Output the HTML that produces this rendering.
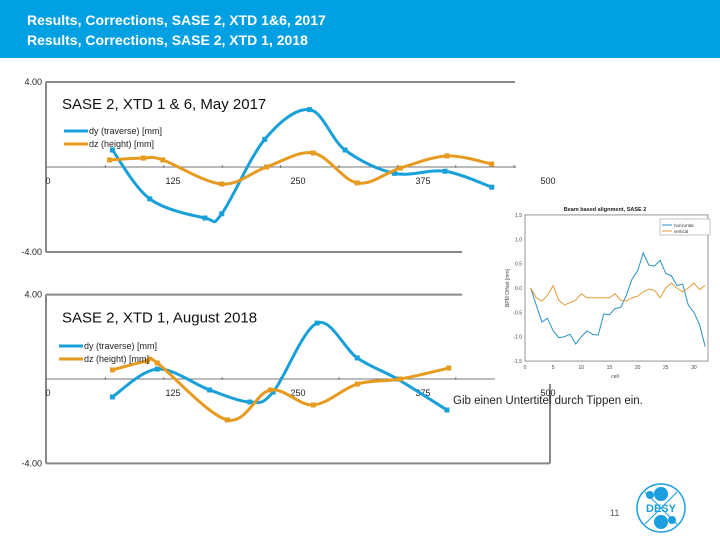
<!DOCTYPE html>
<html><head><meta charset="utf-8"><style>
body{margin:0;width:720px;height:540px;overflow:hidden;background:#fff;font-family:"Liberation Sans",sans-serif}
svg{position:absolute;left:0;top:0}
</style></head><body>
<svg width="720" height="540" viewBox="0 0 720 540">
<rect x="0" y="0" width="720" height="58" fill="#00a0e3"/>
<text x="27" y="25" font-size="14" font-weight="bold" fill="#fff">Results, Corrections, SASE 2, XTD 1&amp;6, 2017</text>
<text x="27" y="45" font-size="14" font-weight="bold" fill="#fff">Results, Corrections, SASE 2, XTD 1, 2018</text>
<g id="c1"></g>
<g id="c2"></g>
<g id="inset"></g>
<text x="453" y="404" font-size="11.5" fill="#222">Gib einen Untertitel durch Tippen ein.</text>
<text x="610" y="516" font-size="9" fill="#555">11</text>
<g>
<circle cx="661" cy="508" r="24" fill="none" stroke="#1a9ee0" stroke-width="1.5"/>
<line x1="645" y1="524" x2="677" y2="492" stroke="#1a9ee0" stroke-width="1"/>
<line x1="645" y1="492" x2="677" y2="524" stroke="#1a9ee0" stroke-width="1"/>
<circle cx="661" cy="494" r="7" fill="#1a9ee0"/><circle cx="650" cy="495" r="4" fill="#1a9ee0"/>
<circle cx="661" cy="522" r="7" fill="#1a9ee0"/><circle cx="672" cy="520" r="4" fill="#1a9ee0"/>
<text x="661" y="512" font-size="11" font-weight="bold" fill="#1a9ee0" text-anchor="middle">DESY</text>
</g>
</svg>
<script>
const NS="http://www.w3.org/2000/svg";
const xTicks=[0,125,250,375,500];
const c1X=[70,110,169,187,233,281,319,372,426,476];
const c1Dy=[0.8,-1.5,-2.4,-2.2,1.3,2.7,0.8,-0.3,-0.2,-0.95];
const c1ZX=[67,103,124,187,235,285,332,378,428,476];
const c1Dz=[0.33,0.42,0.33,-0.8,0,0.66,-0.75,-0.05,0.52,0.14];
const c2X=[70,118,174,217,242,289,332,375,428];
const c2Dy=[-0.85,0.47,-0.52,-1.09,-0.62,2.65,1.0,0,-1.47];
const c2ZX=[70,107,118,193,239,285,332,378,430];
const c2Dz=[0.43,0.85,0.76,-1.94,-0.52,-1.23,-0.24,0,0.52];
const cells=[1,2,3,4,5,6,7,8,9,10,11,12,13,14,15,16,17,18,19,20,21,22,23,24,25,26,27,28,29,30,31,32];
const horiz=[0,-0.35,-0.7,-0.62,-0.88,-1.02,-1.0,-0.95,-1.15,-1.0,-0.88,-0.95,-0.97,-0.53,-0.55,-0.42,-0.4,-0.15,0.18,0.35,0.72,0.47,0.45,0.57,0.3,0.25,0.05,0.08,-0.35,-0.5,-0.75,-1.2];
const vert=[0,-0.2,-0.27,-0.15,0.05,-0.25,-0.35,-0.3,-0.25,-0.12,-0.2,-0.2,-0.2,-0.2,-0.2,-0.12,-0.25,-0.27,-0.2,-0.17,-0.08,-0.02,-0.05,-0.2,0,0.1,0,-0.08,0,0.1,-0.03,0.05];
const insetXTicks=[0,5,10,15,20,25,30];
const insetYTicks=[1.5,1.0,0.5,0.0,-0.5,-1.0,-1.5];
const BLUE="#1aa0d8",ORANGE="#e69a1e";
function mk(p,t,a){const e=document.createElementNS(NS,t);for(const k in a)e.setAttribute(k,a[k]);p.appendChild(e);return e;}
function smooth(pts){let d="M"+pts[0][0]+","+pts[0][1];for(let i=0;i<pts.length-1;i++){const p0=pts[i-1]||pts[i],p1=pts[i],p2=pts[i+1],p3=pts[i+2]||p2;
d+=" C"+(p1[0]+(p2[0]-p0[0])/6)+","+(p1[1]+(p2[1]-p0[1])/6)+" "+(p2[0]-(p3[0]-p1[0])/6)+","+(p2[1]-(p3[1]-p1[1])/6)+" "+p2[0]+","+p2[1];}return d;}
function chart(g,o){
 const sx=v=>47+v*0.9344, sy=v=>o.zero-v*o.k;
 let e;
 e=mk(g,"line",{x1:46,y1:sy(4),x2:o.topEnd,y2:sy(4),stroke:"#888","stroke-width":2});
 
 e=mk(g,"line",{x1:46,y1:sy(4),x2:46,y2:sy(-4),stroke:"#888","stroke-width":2});
 
 e=mk(g,"line",{x1:46,y1:sy(-4),x2:o.botEnd,y2:sy(-4),stroke:"#888","stroke-width":2});
 
 if(o.right){e=mk(g,"line",{x1:o.botEnd,y1:sy(0),x2:o.botEnd,y2:sy(-4),stroke:"#888","stroke-width":2});
 }
 e=mk(g,"line",{x1:46,y1:sy(0),x2:sx(500)+2,y2:sy(0),stroke:"#777","stroke-width":1});
 
 for(let v=62.5;v<=500;v+=62.5){e=mk(g,"line",{x1:sx(v),y1:sy(0)-2,x2:sx(v),y2:sy(0)+1,stroke:"#777"});
 }
 xTicks.forEach(v=>{e=mk(g,"text",{x:48+v*1.0,y:sy(0)+17,"font-size":9,fill:"#222","text-anchor":"middle"});e.textContent=v;
 });
 [[4,"4.00"],[-4,"-4.00"]].forEach(a=>{e=mk(g,"text",{x:42,y:sy(a[0])+3,"font-size":9,fill:"#222","text-anchor":"end"});e.textContent=a[1];
 });
 e=mk(g,"text",{x:62,y:sy(4)+o.titleDy,"font-size":15,fill:"#111"});e.textContent=o.title;
 
 const series=[[o.dx,o.dy,BLUE,"dy (traverse) [mm]","series-dy"],[o.zx,o.dz,ORANGE,"dz (height) [mm]","series-dz"]];
 series.forEach((s,i)=>{
  const pts=s[0].map((x,j)=>[sx(x),sy(s[1][j])]);
  e=mk(g,"path",{d:smooth(pts),fill:"none",stroke:s[2],"stroke-width":3});
  
  pts.forEach(p=>{e=mk(g,"rect",{x:p[0]-2.5,y:p[1]-2.5,width:5,height:5,fill:s[2]});
  });
  const ly=o.legY+i*13;
  e=mk(g,"line",{x1:o.legX,y1:ly,x2:o.legX+24,y2:ly,stroke:s[2],"stroke-width":3});
  
  e=mk(g,"text",{x:o.legX+25,y:ly+3,"font-size":9,fill:"#222"});e.textContent=s[3];
  
 });
}
chart(document.getElementById("c1"),{zero:167,k:21.25,topEnd:515,botEnd:462,right:false,title:"SASE 2, XTD 1 & 6, May 2017",titleDy:27,dx:c1X,dy:c1Dy,zx:c1ZX,dz:c1Dz,legX:64,legY:131});
chart(document.getElementById("c2"),{zero:379,k:21.1,topEnd:462,botEnd:550,right:true,title:"SASE 2, XTD 1, August 2018",titleDy:28,dx:c2X,dy:c2Dy,zx:c2ZX,dz:c2Dz,legX:59,legY:346});
// inset
(function(){
 const g=document.getElementById("inset");
 const sx=v=>525+v*5.63, sy=v=>288-v*48.7;
 let e=mk(g,"rect",{x:495,y:198,width:222,height:186,fill:"#fff"});
 
 e=mk(g,"rect",{x:sx(0),y:sy(1.5),width:sx(32.5)-sx(0),height:sy(-1.5)-sy(1.5),fill:"none",stroke:"#666","stroke-width":0.7});
 
 e=mk(g,"text",{x:605,y:211,"font-size":5.5,"font-weight":"bold",fill:"#222","text-anchor":"middle"});e.textContent="Beam based alignment, SASE 2";
 
 insetYTicks.forEach(v=>{e=mk(g,"text",{x:522,y:sy(v)+2,"font-size":5,fill:"#444","text-anchor":"end"});e.textContent=v.toFixed(1);
 });
 insetXTicks.forEach(v=>{e=mk(g,"text",{x:sx(v),y:sy(-1.5)+8,"font-size":5,fill:"#444","text-anchor":"middle"});e.textContent=v;
 });
 e=mk(g,"text",{x:615,y:378,"font-size":5,fill:"#444","text-anchor":"middle"});e.textContent="cell";
 
 e=mk(g,"text",{x:509,y:288,"font-size":5,fill:"#444","text-anchor":"middle",transform:"rotate(-90 509 288)"});e.textContent="BPM Offset [mm]";
 
 [[horiz,"#2a8fc4","inset-series-horizontal"],[vert,"#e39b3a","inset-series-vertical"]].forEach(s=>{
  e=mk(g,"polyline",{points:cells.map((c,i)=>sx(c)+","+sy(s[0][i])).join(" "),fill:"none",stroke:s[1],"stroke-width":1});
  });
 e=mk(g,"rect",{x:660,y:219,width:50,height:16,fill:"#fff",stroke:"#888","stroke-width":0.5});
 
 [["horizontal","#2a8fc4",225],["vertical","#e39b3a",231]].forEach(l=>{
  e=mk(g,"line",{x1:662,y1:l[2],x2:672,y2:l[2],stroke:l[1],"stroke-width":1});
  
  e=mk(g,"text",{x:674,y:l[2]+2,"font-size":4.5,fill:"#333"});e.textContent=l[0];
  });
})();
</script>
</body></html>
